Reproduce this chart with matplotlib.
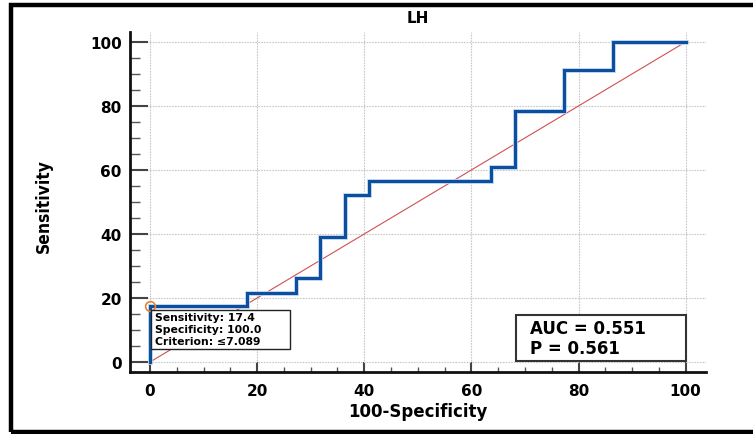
import numpy as np
import matplotlib.pyplot as plt
from matplotlib.patches import Rectangle
from matplotlib.ticker import MultipleLocator

# ROC curve for LH (step points, 100-specificity vs sensitivity)
fpr = [0, 0, 18.2, 18.2, 27.3, 27.3, 31.8, 31.8, 36.4, 36.4, 40.9, 40.9,
       63.6, 63.6, 68.2, 68.2, 77.3, 77.3, 86.4, 86.4, 100]
tpr = [0, 17.4, 17.4, 21.7, 21.7, 26.1, 26.1, 39.1, 39.1, 52.2, 52.2, 56.5,
       56.5, 60.9, 60.9, 78.3, 78.3, 91.3, 91.3, 100, 100]

# optimal cut-off point
cut_x = 0.0
cut_sens = 17.4
cut_spec = 100.0
cut_crit = "\u22647.089"

auc = 0.551
pval = 0.561

ticks = [0, 20, 40, 60, 80, 100]

plt.rcParams['font.family'] = ['DejaVu Sans']
plt.rcParams['font.weight'] = 'bold'

fig = plt.figure(figsize=(7.53, 4.35), dpi=100)
ax = fig.add_axes([130/753, 62/435, 576/753, 340/435])

# outer frame (left, top, bottom)
fig.add_artist(Rectangle((10.5/753, 2.5/435), 1.2, 1 - 8/435, transform=fig.transFigure,
                         fill=False, lw=3.2, ec='black', clip_on=False))

# diagonal reference line
ax.plot([0, 100], [0, 100], color='#D05050', lw=0.8, zorder=2)

# roc curve with light halo
ax.plot(fpr, tpr, color='#BCD2EE', lw=3.4, zorder=3, solid_joinstyle='miter')
ax.plot(fpr, tpr, color='#0B4F9E', lw=2.2, zorder=4, solid_joinstyle='miter')

# cut-off marker
ax.plot([cut_x], [cut_sens], 'o', mfc='none', mec='#F08030', ms=7, mew=1.2, zorder=5)

ax.add_patch(Rectangle((0.0365, 0.0676), 0.241, 0.116, transform=ax.transAxes,
                       fc='white', ec='#222222', lw=1.0, zorder=6))
ax.text(0.043, 0.175,
        "Sensitivity: %.1f\nSpecificity: %.1f\nCriterion: %s" % (cut_sens, cut_spec, cut_crit),
        transform=ax.transAxes, fontsize=7.8, va='top', ha='left',
        linespacing=1.25, zorder=7)

ax.add_patch(Rectangle((0.671, 0.0315), 0.294, 0.137, transform=ax.transAxes,
                       fc='white', ec='#333333', lw=1.5, zorder=6))
ax.text(0.695, 0.1, "AUC = %.3f\nP = %.3f" % (auc, pval), transform=ax.transAxes,
        fontsize=12, va='center', ha='left', linespacing=1.2, zorder=7)

ax.set_xlim(-3.73, 103.8)
ax.set_ylim(-3.12, 103.1)
ax.set_xticks(ticks)
ax.set_yticks(ticks)
ax.xaxis.set_minor_locator(MultipleLocator(5))
ax.yaxis.set_minor_locator(MultipleLocator(5))

ax.grid(True, which='major', color='#C8C8C8', ls=(0, (1.5, 1)), lw=0.8)
ax.set_axisbelow(True)

for s in ['top', 'right']:
    ax.spines[s].set_visible(False)
for s in ['left', 'bottom']:
    ax.spines[s].set_linewidth(2)
    ax.spines[s].set_color('#111111')

ax.tick_params(axis='y', which='major', direction='in', length=13, width=1.5,
               color='#444444', labelsize=11, pad=6)
ax.tick_params(axis='y', which='minor', direction='in', length=7, width=1,
               color='#555555')
ax.tick_params(axis='x', which='major', direction='in', length=7, width=1.5,
               color='#444444', labelsize=11, pad=8)
ax.tick_params(axis='x', which='minor', direction='in', length=3.6, width=1,
               color='#555555')
for lab in ax.get_xticklabels() + ax.get_yticklabels():
    lab.set_fontweight('bold')

ax.set_title("LH", fontsize=11, fontweight='bold', pad=7)
ax.set_xlabel("100-Specificity", fontsize=12, fontweight='bold', labelpad=3)
ax.set_ylabel("Sensitivity", fontsize=12.5, fontweight='bold',
              fontstretch='condensed', family=['DejaVu Sans'])
ax.yaxis.set_label_coords(-0.134, 0.49)

fig.savefig("out.png", dpi=100)
